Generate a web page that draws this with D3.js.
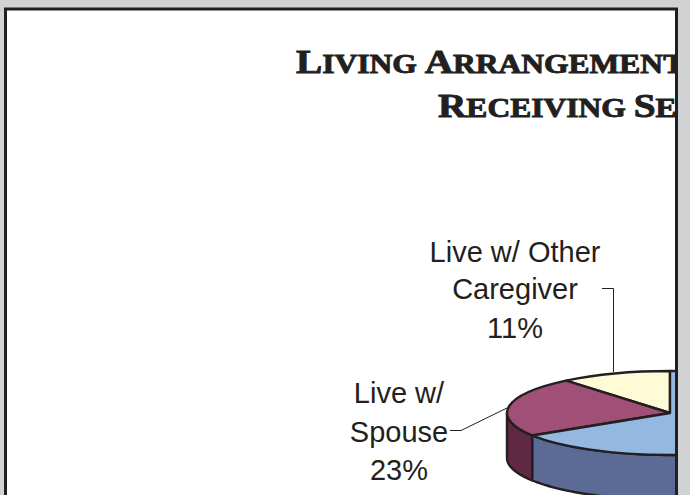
<!DOCTYPE html>
<html>
<head>
<meta charset="utf-8">
<script src="https://cdn.jsdelivr.net/npm/d3@7"></script>
<style>
html, body { margin: 0; padding: 0; background: #d1d2d4; }
svg { display: block; }
</style>
</head>
<body>
<div id="chart"></div>
<script>
// values (the rest of the pie is cut off by the frame)
const categories = ['Live w/ Other Caregiver', 'Live w/ Spouse', 'Rest of pie'];
const shares = [11, 23, 66];
const topColors = ['#fffbd6', '#a05077', '#95b8e1'];
const sideColors = ['#8f8c6f', '#5f2843', '#5b6b96'];
const titleLines = [
  [['L', 1], ['IVING ', 0], ['A', 1], ['RRANGEMENT', 0]],
  [['R', 1], ['ECEIVING ', 0], ['S', 1], ['E', 0]]
];
const labelLines = [
  ['Live w/ Other', 'Caregiver', '11%'],
  ['Live w/', 'Spouse', '23%']
];

const width = 690, height = 495;
const dark = '#231f20';

const svg = d3.select('#chart').append('svg')
  .attr('width', width)
  .attr('height', height);

// white panel, runs off the bottom of the page
svg.append('rect')
  .attr('x', 5.5).attr('y', 9)
  .attr('width', 671).attr('height', 500)
  .attr('fill', '#fff')
  .attr('stroke', dark)
  .attr('stroke-width', 3);

svg.append('clipPath').attr('id', 'panel')
  .append('rect')
  .attr('x', 7).attr('y', 10)
  .attr('width', 668).attr('height', 490);

const plot = svg.append('g').attr('clip-path', 'url(#panel)');

// title, stretched sideways to get the wide engraved look
const titleX = [296, 438], titleY = [73, 117];
titleLines.forEach(function(line, i){
  var t = plot.append('text')
    .attr('transform', 'translate(' + titleX[i] + ',' + titleY[i] + ') scale(1.19,1)')
    .attr('font-family', '"Liberation Serif", serif')
    .attr('font-weight', 'bold')
    .attr('fill', dark)
    .attr('stroke', dark)
    .attr('stroke-width', 0.9);
  line.forEach(function(p){
    t.append('tspan')
      .attr('font-size', p[1] ? 33 : 26.5)
      .attr('xml:space', 'preserve')
      .text(p[0]);
  });
});

// pie
const cx = 670, cy = 413, rx = 163, ry = 42, depth = 45;
const pie = d3.pie().sort(null).startAngle(0).endAngle(-2 * Math.PI);
const slices = pie(shares);
const arc = d3.arc().innerRadius(0).outerRadius(rx);

const pieG = plot.append('g').attr('transform', 'translate(' + cx + ',' + cy + ')');

// side wall, only the front half shows
const frontStart = -Math.PI / 2, frontEnd = -3 * Math.PI / 2;
const wall = d3.area()
  .x(function(a){ return rx * Math.sin(a); })
  .y0(function(a){ return -ry * Math.cos(a); })
  .y1(function(a){ return -ry * Math.cos(a) + depth; });

slices.forEach(function(s, i){
  var a0 = Math.min(s.startAngle, frontStart);
  var a1 = Math.max(s.endAngle, frontEnd);
  if (a0 <= a1) return;
  var steps = d3.range(0, 61).map(function(k){ return a0 + (a1 - a0) * k / 60; });
  pieG.append('path')
    .attr('d', wall(steps))
    .attr('fill', sideColors[i])
    .attr('stroke', dark)
    .attr('stroke-width', 2.4)
    .attr('stroke-linejoin', 'round');
});

// top face, squashed circle
pieG.append('g')
  .attr('transform', 'scale(1,' + (ry / rx) + ')')
  .selectAll('path')
  .data(slices)
  .join('path')
  .attr('d', arc)
  .attr('fill', function(d, i){ return topColors[i]; })
  .attr('stroke', dark)
  .attr('stroke-width', 2.4)
  .attr('stroke-linejoin', 'round')
  .attr('vector-effect', 'non-scaling-stroke');

// labels
const labelX = [515, 399];
const labelY = [[262, 299, 338], [403, 442, 480]];
labelLines.forEach(function(lines, i){
  plot.selectAll('text.label' + i)
    .data(lines)
    .join('text')
    .attr('class', 'label' + i)
    .attr('x', labelX[i])
    .attr('y', function(d, k){ return labelY[i][k]; })
    .attr('text-anchor', 'middle')
    .attr('font-family', '"Liberation Sans", Arial, sans-serif')
    .attr('font-size', 29)
    .attr('fill', dark)
    .text(function(d){ return d; });
});

// leader lines
const leaders = [
  [[602, 288.5], [613.5, 288.5], [613.5, 372]],
  [[450, 430.5], [461, 430.5], [507, 408]]
];
leaders.forEach(function(pts){
  plot.append('path')
    .attr('d', d3.line()(pts))
    .attr('fill', 'none')
    .attr('stroke', dark)
    .attr('stroke-width', 1);
});
</script>
</body>
</html>
